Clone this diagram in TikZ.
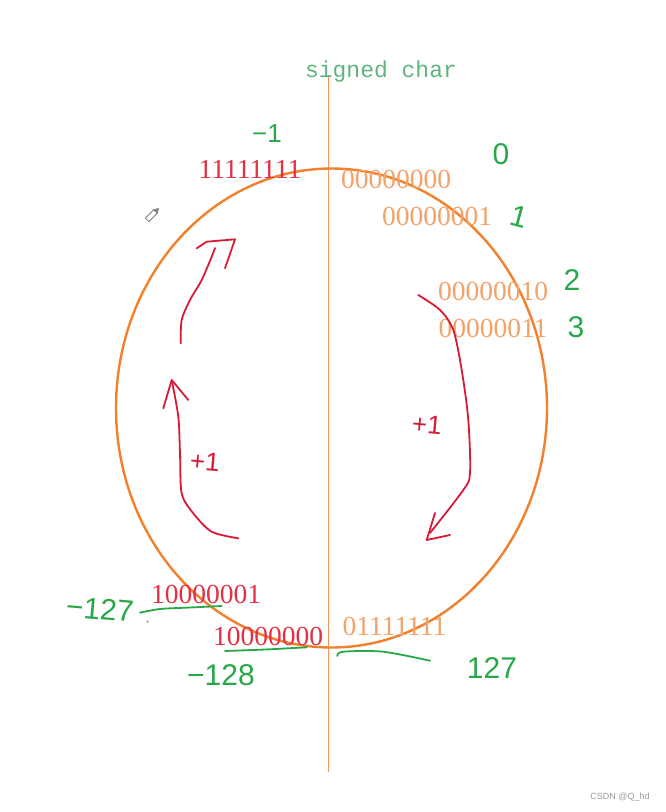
\documentclass[tikz,border=0pt]{standalone}
\usepackage{fontspec}
\usetikzlibrary{shapes.geometric}
\setmainfont{Liberation Serif}
\newfontfamily\monof{Liberation Mono}
\newfontfamily\handf{Liberation Sans}
\definecolor{ellorange}{RGB}{242,128,45}
\definecolor{axisorange}{RGB}{240,150,90}
\definecolor{txtorange}{RGB}{243,162,105}
\definecolor{txtred}{RGB}{226,48,70}
\definecolor{penred}{RGB}{214,28,52}
\definecolor{pengreen}{RGB}{40,168,72}
\definecolor{titlegreen}{RGB}{95,182,125}
\tikzset{
  bits/.style={inner sep=0pt,font=\fontsize{27.5}{30}\selectfont},
  posbits/.style={bits,text=txtorange},
  negbits/.style={bits,text=txtred},
  hand/.style={inner sep=0pt,text=pengreen,font=\handf\fontsize{30}{32}\selectfont},
  redhand/.style={inner sep=0pt,text=penred,font=\handf\fontsize{26}{28}\selectfont},
  redpen/.style={draw=penred,line width=1.8pt,line cap=round,line join=round},
  greenpen/.style={draw=pengreen,line width=1.8pt,line cap=round,line join=round}
}
\begin{document}
\begin{tikzpicture}[x=1pt,y=-1pt]
\useasboundingbox[fill=white] (0,0) rectangle (665,812);
% axis and circle
\coordinate (axtop) at (328.3,75);
\coordinate (axbot) at (328.3,772);
\draw[axisorange,line width=1.4pt] (axtop) -- (axbot);
\node[draw=ellorange,line width=2.4pt,ellipse,minimum width=431pt,minimum height=479pt,inner sep=0pt] (ring) at (331.5,408) {};
% title
\node[anchor=base,inner sep=0pt,text=titlegreen,font=\monof\fontsize{23}{25}\selectfont] (title) at (381,77) {signed char};
% binary values
\node[negbits] (m1) at (250,169) {11111111};
\node[posbits] (p0) at (396,179) {00000000};
\node[posbits] (p1) at (437,216) {00000001};
\node[posbits] (p2) at (493,291) {00000010};
\node[posbits] (p3) at (493,328.5) {00000011};
\node[negbits] (m127) at (206,594.5) {10000001};
\node[negbits] (m128) at (268,636) {10000000};
\node[posbits] (p127) at (394.5,626) {01111111};
% green handwritten values
\node[hand,font=\handf\fontsize{26}{28}\selectfont] (hm1) at (267,134) {−1};
\node[hand] (h0) at (501,154) {0};
\node[hand,rotate=-15] (h1) at (519,217) {1};
\node[hand] (h2) at (572,280) {2};
\node[hand] (h3) at (576,327) {3};
\node[hand,rotate=-5] (hm127) at (100,609) {−127};
\node[hand] (hm128) at (221,675) {−128};
\node[hand] (h127) at (492,668) {127};
% green underlines
\draw[greenpen] plot[smooth] coordinates {(140,612.7) (160,609) (190,607.5) (221.7,606)};
\fill[pengreen] (147.7,621.7) circle (1pt);
\draw[greenpen] plot[smooth] coordinates {(225,651) (265,649.5) (306.7,647.3)};
\draw[greenpen] plot[smooth] coordinates {(337.3,656) (343,651.7) (383,651.7) (430,660.7)};
% red arrows: left side upward
\draw[redpen] plot[smooth] coordinates {(180.7,343.3) (181.7,320) (190,300) (201.7,280) (211.7,256.7) (215,248)};
\draw[redpen] (196.7,248.3) -- (206.7,241.7) -- (235,239.3) -- (225,268.3);
\draw[redpen] plot[smooth] coordinates {(238.3,538.3) (211.7,531.7) (193.3,513.3) (181.7,493.3) (180,453) (178.3,416.7) (171.7,380)};
\draw[redpen] (163.3,408.3) -- (171.7,380) -- (188.3,400);
\node[redhand,rotate=-5] (plusL) at (205,462) {+1};
% red arrow: right side downward
\draw[redpen] plot[smooth] coordinates {(418.3,295) (440,310) (453.3,330) (461.7,370) (468.3,420) (470,473) (463.3,490) (430,533)};
\draw[redpen] (435,513) -- (426.7,540) -- (450,535);
\node[redhand,rotate=-5] (plusR) at (427,425) {+1};
% cursor icon
\begin{scope}[shift={(152,215)},rotate=45]
\draw[gray,line width=0.8pt,fill=white] (-7,-2.5) rectangle (5,2.5);
\draw[gray,line width=0.8pt,fill=gray] (5,-2.5) -- (9,0) -- (5,2.5) -- cycle;
\end{scope}
% watermark
\node[inner sep=0pt,text=gray!80,font=\handf\fontsize{9}{10}\selectfont] (wm) at (620,797) {CSDN @Q\_hd};
\end{tikzpicture}
\end{document}
